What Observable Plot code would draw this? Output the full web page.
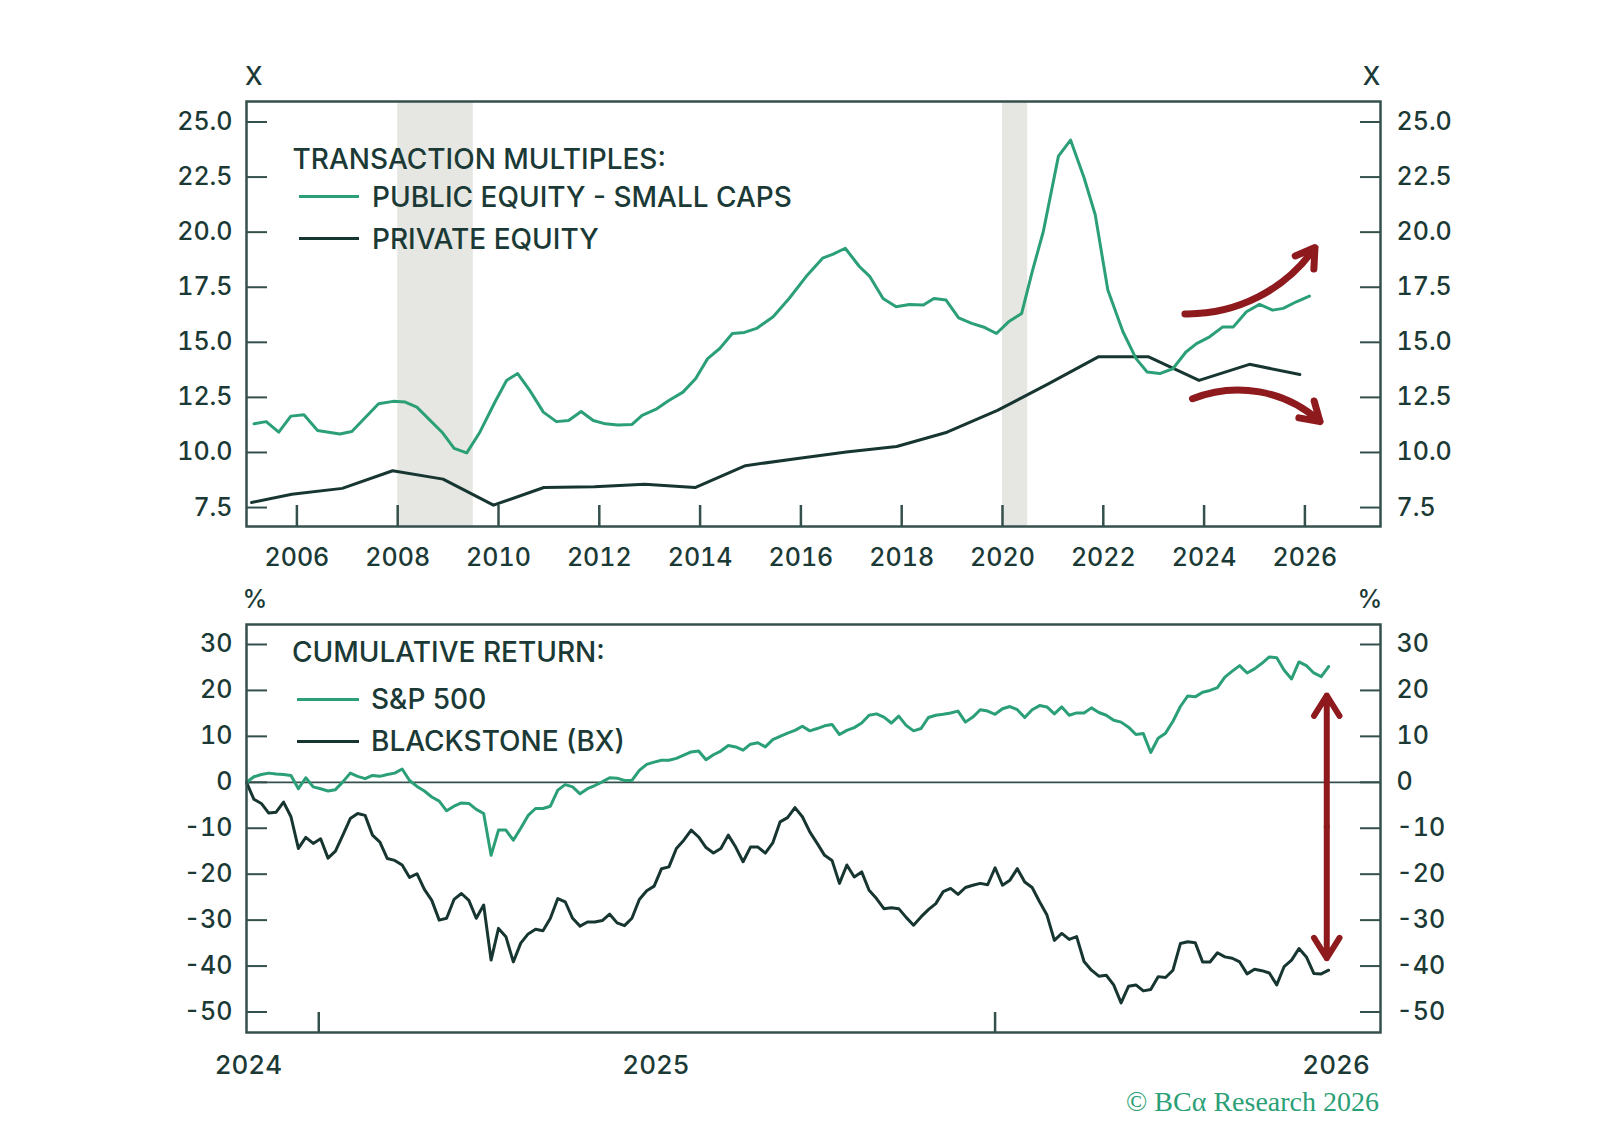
<!DOCTYPE html>
<html>
<head>
<meta charset="utf-8">
<script src="https://cdn.jsdelivr.net/npm/d3@7"></script>
<script src="https://cdn.jsdelivr.net/npm/@observablehq/plot@0.6"></script>
<style>
  html, body { margin: 0; padding: 0; background: #ffffff; }
  #root { position: relative; width: 1598px; height: 1144px; overflow: hidden; font-family: Inter, "Open Sans", sans-serif; color: #1b3a36; }
  .abs { position: absolute; line-height: 1; white-space: nowrap; transform: translateY(-50%); }
  .leg { font-size: 28px; font-weight: 500; }
  .sw { position: absolute; height: 3px; }
  .unit { font-size: 25px; font-weight: 500; }
  svg { position: absolute; left: 0; overflow: visible; }
</style>
</head>
<body>
<div id="root"></div>
<script>
// ---------------- DATA ----------------
// Top panel: transaction multiples (x = fractional year)
const peYears = [2005.15,2005.39,2005.64,2005.88,2006.14,2006.41,2006.85,2007.09,2007.62,2007.91,2008.15,2008.38,2008.88,2009.12,2009.37,2009.63,2009.93,2010.16,2010.38,2010.62,2010.89,2011.15,2011.39,2011.64,2011.88,2012.12,2012.37,2012.65,2012.85,2013.14,2013.38,2013.66,2013.91,2014.15,2014.39,2014.64,2014.88,2015.12,2015.45,2015.77,2016.13,2016.43,2016.64,2016.88,2017.16,2017.37,2017.63,2017.89,2018.15,2018.43,2018.64,2018.88,2019.13,2019.39,2019.65,2019.88,2020.12,2020.38,2020.59,2020.81,2021.11,2021.35,2021.62,2021.84,2022.09,2022.39,2022.65,2022.87,2023.12,2023.38,2023.64,2023.85,2024.11,2024.37,2024.58,2024.84,2025.10,2025.36,2025.57,2025.83,2026.09];
const publicSmallCaps = [11.30,11.40,10.92,11.65,11.71,11.00,10.84,10.95,12.21,12.32,12.29,12.06,10.92,10.19,9.98,10.92,12.29,13.27,13.58,12.82,11.83,11.40,11.45,11.86,11.45,11.30,11.25,11.27,11.68,11.98,12.36,12.74,13.35,14.26,14.72,15.40,15.45,15.63,16.16,17.00,18.06,18.82,19.00,19.27,18.44,17.98,16.99,16.61,16.72,16.69,16.99,16.92,16.11,15.86,15.67,15.40,15.93,16.31,18.21,20.03,23.45,24.18,22.46,20.79,17.37,15.48,14.26,13.65,13.58,13.80,14.56,14.94,15.25,15.70,15.70,16.39,16.72,16.46,16.54,16.84,17.10];
const privYears = [2005.1,2005.9,2006.9,2007.9,2008.9,2009.9,2010.9,2011.9,2012.9,2013.9,2014.9,2015.9,2016.9,2017.9,2018.9,2019.9,2020.9,2021.9,2022.9,2023.9,2024.9,2025.9];
const privateEquity = [7.73,8.10,8.37,9.17,8.79,7.61,8.41,8.44,8.56,8.41,9.40,9.72,10.02,10.27,10.92,11.91,13.10,14.34,14.34,13.27,14.00,13.54];
const recessionStart = [2008.0, 2020.0];
const recessionEnd = [2009.5, 2020.5];
const topYTicks = [7.5, 10, 12.5, 15, 17.5, 20, 22.5, 25];
const topXTicks = [2006, 2008, 2010, 2012, 2014, 2016, 2018, 2020, 2022, 2024, 2026];
// outlook arrows (top panel): [x1, y1, x2, y2]
const arrowUp = [2023.62, 16.29, 2026.2, 19.3];
const arrowDown = [2023.77, 12.44, 2026.3, 11.4];

// Bottom panel: cumulative return (%), sampled every 4 days from the start date
const startDate = "2024-11-23";
const stepDays = 4;
const sp500 = [0,1.2,1.7,2.0,1.8,1.7,1.5,-1.4,1.0,-1.0,-1.4,-1.9,-1.6,0.1,2.0,1.3,0.8,1.5,1.3,1.7,2.0,2.9,0.4,-0.9,-1.9,-3.2,-4.1,-6.2,-5.2,-4.5,-4.6,-5.9,-6.8,-15.9,-10.4,-10.4,-12.6,-10.0,-7.2,-5.7,-5.7,-5.2,-1.7,-0.5,-1.0,-2.5,-1.4,-0.7,0.1,1.0,0.9,0.4,0.4,2.6,3.9,4.4,4.8,4.8,5.2,5.9,6.6,6.8,4.9,6.0,6.8,8.0,7.7,7.0,8.3,8.6,7.7,9.3,10.0,10.7,11.3,12.2,11.2,11.7,12.3,12.6,10.4,11.3,11.9,12.9,14.6,14.9,14.2,12.9,14.4,12.4,11.2,11.7,14.1,14.6,14.8,15.1,15.5,13.1,14.2,15.8,15.5,14.8,16.0,16.5,15.8,14.1,15.8,16.7,16.4,14.9,16.4,14.6,15.1,15.1,16.2,15.2,14.6,13.5,13.1,12.0,10.4,10.6,6.5,9.6,10.7,13.3,16.5,18.8,18.6,19.6,20.0,20.6,22.9,24.2,25.4,23.8,24.7,25.9,27.3,27.1,24.4,22.5,26.2,25.4,23.8,23.0,25.2];
const blackstone = [0,-3.7,-4.6,-6.7,-6.5,-4.3,-7.5,-14.4,-12.0,-13.3,-12.3,-16.5,-15.0,-11.5,-7.9,-6.8,-7.2,-11.5,-13.0,-16.6,-17.0,-18.0,-20.7,-19.9,-23.3,-25.7,-30.0,-29.6,-25.5,-24.2,-25.7,-29.6,-26.7,-38.7,-31.8,-33.6,-39.1,-35.0,-33.0,-32.0,-32.3,-29.6,-25.3,-26.0,-29.6,-31.3,-30.4,-30.4,-30.1,-28.7,-30.6,-31.2,-29.6,-25.5,-23.6,-22.6,-18.8,-18.4,-14.4,-12.6,-10.4,-11.9,-14.2,-15.4,-14.4,-11.5,-14.1,-17.3,-14.1,-14.1,-15.4,-13.2,-8.6,-7.7,-5.5,-7.5,-10.8,-13.3,-15.9,-17.0,-22.0,-18.0,-20.6,-19.5,-23.5,-25.3,-27.5,-27.3,-27.5,-29.4,-31.1,-29.3,-27.7,-26.4,-23.8,-23.1,-24.4,-22.9,-22.4,-22.0,-22.3,-18.6,-22.4,-21.3,-18.8,-21.7,-22.9,-26.0,-28.9,-34.4,-32.9,-34.2,-33.6,-39.0,-40.9,-42.2,-42.0,-44.1,-48.0,-44.4,-44.1,-45.4,-45.1,-42.3,-42.5,-40.9,-35.1,-34.7,-34.9,-39.1,-39.1,-37.1,-38.0,-38.3,-39.1,-41.7,-40.7,-41.0,-41.5,-44.1,-40.1,-38.7,-36.2,-38.0,-41.6,-41.7,-40.9];
const bottomDomainX = ["2024-11-23", "2026-07-28"];
const bottomYTicks = [-50, -40, -30, -20, -10, 0, 10, 20, 30];
const bottomTickDates = ["2025-01-01", "2026-01-01"];
const bottomLabelDates = ["2024-11-24", "2025-07-02", "2026-07-04"];
const bottomLabels = ["2024", "2025", "2026"];
// gap arrow: date, top value, bottom value
const gapArrow = ["2026-06-29", 18.9, -38.3];

// ---------------- STYLE ----------------
const GREEN = "#2b9f76";
const DARK = "#173631";
const TXT = "#1b3a36";
const FRAME = "#34504c";
const BAND = "#e6e6e2";
const RED = "#8e1a1e";
const W = 1598;

// ---------------- BUILD TABLES ----------------
const pubRows = peYears.map((x, i) => ({x, v: publicSmallCaps[i]}));
const privRows = privYears.map((x, i) => ({x, v: privateEquity[i]}));
const recRows = recessionStart.map((s, i) => ({x1: s, x2: recessionEnd[i]}));
const parse = d3.utcParse("%Y-%m-%d");
const d0 = parse(startDate);
const spRows = sp500.map((v, i) => ({date: d3.utcDay.offset(d0, i * stepDays), v}));
const bxRows = blackstone.map((v, i) => ({date: d3.utcDay.offset(d0, i * stepDays), v}));
const labelMap = new Map(bottomLabelDates.map((d, i) => [+parse(d), bottomLabels[i]]));
const gapDate = parse(gapArrow[0]);
const gapMid = (gapArrow[1] + gapArrow[2]) / 2;

const root = document.getElementById("root");
const fontStyle = {fontFamily: "Inter, 'Open Sans', sans-serif", fontSize: "25px", fontWeight: 500, color: TXT, background: "transparent", overflow: "visible"};

// ---------------- TOP PANEL ----------------
const topPlot = Plot.plot({
  width: W, height: 586,
  marginTop: 101, marginBottom: 60, marginLeft: 246, marginRight: 218,
  style: fontStyle,
  x: {domain: [2005, 2027.5]},
  y: {domain: [6.64, 25.93]},
  marks: [
    Plot.rect(recRows, {x1: "x1", x2: "x2", fill: BAND}),
    Plot.axisY({anchor: "left", ticks: topYTicks, tickSize: -21, tickPadding: 35, tickFormat: d3.format(".1f"), label: null, strokeWidth: 2, stroke: FRAME}),
    Plot.axisY({anchor: "right", ticks: topYTicks, tickSize: -21, tickPadding: 37, tickFormat: d3.format(".1f"), label: null, strokeWidth: 2, stroke: FRAME}),
    Plot.axisX({anchor: "bottom", ticks: topXTicks, tickSize: -21, tickPadding: 43, tickFormat: d => String(d), label: null, strokeWidth: 2.5, stroke: FRAME}),
    Plot.line(privRows, {x: "x", y: "v", stroke: DARK, strokeWidth: 3}),
    Plot.line(pubRows, {x: "x", y: "v", stroke: GREEN, strokeWidth: 3}),
    Plot.arrow([arrowUp], {x1: d => d[0], y1: d => d[1], x2: d => d[2], y2: d => d[3], bend: -28, stroke: RED, strokeWidth: 7, headLength: 4.6, headAngle: 64}),
    Plot.arrow([arrowDown], {x1: d => d[0], y1: d => d[1], x2: d => d[2], y2: d => d[3], bend: 32, stroke: RED, strokeWidth: 7, headLength: 4.6, headAngle: 64}),
    Plot.frame({stroke: FRAME, strokeWidth: 2.5})
  ]
});
topPlot.style.top = "0px";
root.appendChild(topPlot);

// ---------------- BOTTOM PANEL ----------------
const botPlot = Plot.plot({
  width: W, height: 496,
  marginTop: 38, marginBottom: 50, marginLeft: 246, marginRight: 218,
  style: fontStyle,
  x: {type: "utc", domain: bottomDomainX.map(parse)},
  y: {domain: [-54.46, 34.35]},
  marks: [
    Plot.axisY({anchor: "left", ticks: bottomYTicks, tickSize: -21, tickPadding: 35, tickFormat: d => String(d), label: null, strokeWidth: 2, stroke: FRAME}),
    Plot.axisY({anchor: "right", ticks: bottomYTicks, tickSize: -21, tickPadding: 37, tickFormat: d => String(d), label: null, strokeWidth: 2, stroke: FRAME}),
    Plot.axisX({anchor: "bottom", ticks: bottomTickDates.map(parse), tickSize: -20, tickFormat: () => "", label: null, strokeWidth: 2.5, stroke: FRAME}),
    Plot.axisX({anchor: "bottom", ticks: bottomLabelDates.map(parse), tickSize: 0, tickPadding: 23, tickFormat: d => labelMap.get(+d), label: null, fontSize: 26}),
    Plot.ruleY([0], {stroke: FRAME, strokeWidth: 1.8}),
    Plot.line(bxRows, {x: "date", y: "v", stroke: DARK, strokeWidth: 3}),
    Plot.line(spRows, {x: "date", y: "v", stroke: GREEN, strokeWidth: 3}),
    Plot.arrow([gapArrow], {x1: () => gapDate, y1: () => gapMid, x2: () => gapDate, y2: d => d[1], stroke: RED, strokeWidth: 6, headLength: 6, headAngle: 64}),
    Plot.arrow([gapArrow], {x1: () => gapDate, y1: () => gapMid, x2: () => gapDate, y2: d => d[2], stroke: RED, strokeWidth: 6, headLength: 6, headAngle: 64}),
    Plot.frame({stroke: FRAME, strokeWidth: 2.5})
  ]
});
botPlot.style.top = "586px";
root.appendChild(botPlot);

// ---------------- HTML TEXT: units, legends, caption ----------------
function addText(txt, left, top, cls, extra) {
  const el = document.createElement("div");
  el.className = "abs " + cls;
  el.textContent = txt;
  el.style.left = left + "px";
  el.style.top = top + "px";
  if (extra) Object.assign(el.style, extra);
  root.appendChild(el);
  return el;
}
function addSwatch(color, left, top, width) {
  const el = document.createElement("div");
  el.className = "sw";
  el.style.left = left + "px";
  el.style.top = (top - 1.5) + "px";
  el.style.width = width + "px";
  el.style.background = color;
  root.appendChild(el);
}
// unit labels
addText("X", 253.7, 76, "unit", {transform: "translate(-50%,-50%)"});
addText("X", 1371.6, 76, "unit", {transform: "translate(-50%,-50%)"});
addText("%", 255, 599, "unit", {transform: "translate(-50%,-50%)"});
addText("%", 1370, 599, "unit", {transform: "translate(-50%,-50%)"});

// top legend
addText("TRANSACTION MULTIPLES:", 292.5, 159, "leg");
addSwatch(GREEN, 298.6, 196.7, 60);
addText("PUBLIC EQUITY - SMALL CAPS", 372, 196.7, "leg");
addSwatch(DARK, 298.6, 238.5, 60);
addText("PRIVATE EQUITY", 372, 238.5, "leg");

// bottom legend
addText("CUMULATIVE RETURN:", 292, 651.7, "leg");
addSwatch(GREEN, 297, 699.3, 62);
addText("S&P 500", 371, 699.3, "leg");
addSwatch(DARK, 297, 741.3, 62);
addText("BLACKSTONE (BX)", 371, 741.3, "leg");

// caption
addText("© BCα Research 2026", 0, 1101.7, "", {left: "auto", right: (1598 - 1379) + "px", fontFamily: "'Liberation Serif', 'DejaVu Serif', serif", fontSize: "28px", color: GREEN});
</script>
</body>
</html>
